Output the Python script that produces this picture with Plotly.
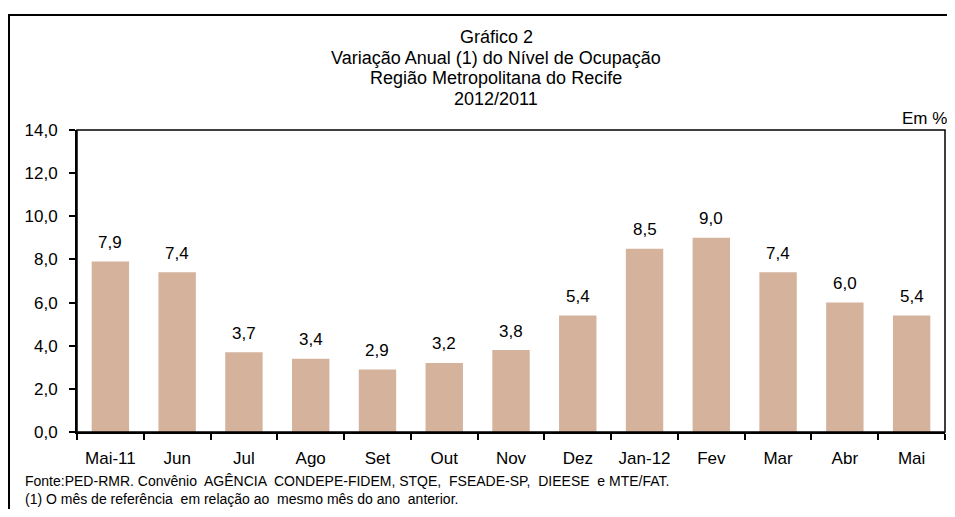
"""
Gráfico 2 - Variação anual do nível de ocupação (RMR)
"""
import plotly.graph_objects as go

meses = ['Mai-11', 'Jun', 'Jul', 'Ago', 'Set', 'Out', 'Nov',
         'Dez', 'Jan-12', 'Fev', 'Mar', 'Abr', 'Mai']
variacao = [7.9, 7.4, 3.7, 3.4, 2.9, 3.2, 3.8, 5.4, 8.5, 9.0, 7.4, 6.0, 5.4]
y_ticks = [0, 2, 4, 6, 8, 10, 12, 14]

titulo = ['Gráfico 2',
          'Variação Anual (1) do Nível de Ocupação',
          'Região Metropolitana do Recife',
          '2012/2011']
notas = ['Fonte:PED-RMR. Convênio  AGÊNCIA  CONDEPE-FIDEM, STQE,  FSEADE-SP,  DIEESE  e MTE/FAT.',
         '(1) O mês de referência  em relação ao  mesmo mês do ano  anterior.']

FONTE = 'Arial, Liberation Sans, sans-serif'
# a página tem 8px de margem no body, então tudo é deslocado 8px
OFF = 8
W, H = 955 - 2 * OFF, 517 - 2 * OFF
# área do gráfico (pixels da referência)
L, R, T, B = 77 - OFF, 945 - OFF, 130 - OFF, 432 - OFF


def px(x):
    return (x - OFF - L) / (R - L)


def py(y):
    return (B - (y - OFF)) / (B - T)


fig = go.Figure()

fig.add_trace(go.Bar(
    x=meses,
    y=variacao,
    marker=dict(color='#D4B29C', line=dict(width=0)),
    showlegend=False,
    hoverinfo='x+y'
))

# rótulos de dados
for m, v in zip(meses, variacao):
    fig.add_annotation(
        x=m, y=v, text=f'{v:.1f}'.replace('.', ','),
        showarrow=False, yanchor='middle', yshift=19,
        font=dict(family=FONTE, size=17, color='black')
    )

# título
for i, linha in enumerate(titulo):
    fig.add_annotation(
        xref='paper', yref='paper', x=px(496), y=py(37 + 20.6 * i),
        text=linha, showarrow=False,
        xanchor='center', yanchor='middle',
        font=dict(family=FONTE, size=18, color='black')
    )

fig.add_annotation(
    xref='paper', yref='paper', x=px(948), y=py(129),
    text='Em %', showarrow=False, xanchor='right', yanchor='bottom',
    borderpad=0,
    font=dict(family=FONTE, size=17, color='black')
)

# notas de rodapé
for i, nota in enumerate(notas):
    fig.add_annotation(
        xref='paper', yref='paper', x=px(24), y=py(481 + 18 * i),
        text=nota, showarrow=False, xanchor='left', yanchor='middle',
        borderpad=0,
        font=dict(family=FONTE, size=14, color='black')
    )

# moldura externa
fig.add_shape(
    type='rect', xref='paper', yref='paper',
    x0=px(9), x1=px(975), y0=py(540), y1=py(15),
    line=dict(color='black', width=2), fillcolor='rgba(0,0,0,0)'
)
# borda superior e direita da área do gráfico
fig.add_shape(
    type='rect', xref='paper', yref='paper',
    x0=0, x1=1, y0=0, y1=1,
    line=dict(color='black', width=1.5), fillcolor='rgba(0,0,0,0)'
)

fig.update_layout(
    width=W, height=H,
    margin=dict(l=L, r=W - R, t=T, b=H - B),
    paper_bgcolor='white',
    plot_bgcolor='white',
    separators=',.',
    bargap=0.44,
    font=dict(family=FONTE, size=17, color='black'),
    xaxis=dict(
        type='category',
        showline=True, linecolor='black', linewidth=2,
        ticks='outside', tickson='boundaries', ticklen=6,
        tickcolor='black', tickwidth=2,
        ticklabelstandoff=10,
        tickfont=dict(family=FONTE, size=17, color='black'),
        showgrid=False, zeroline=False
    ),
    yaxis=dict(
        range=[0, 14],
        tickvals=y_ticks,
        tickformat='.1f',
        showline=True, linecolor='black', linewidth=2,
        ticks='outside', ticklen=6, tickcolor='black', tickwidth=2,
        ticklabelstandoff=8,
        tickfont=dict(family=FONTE, size=17, color='black'),
        showgrid=False, zeroline=False
    )
)

fig.write_html("out.html")
